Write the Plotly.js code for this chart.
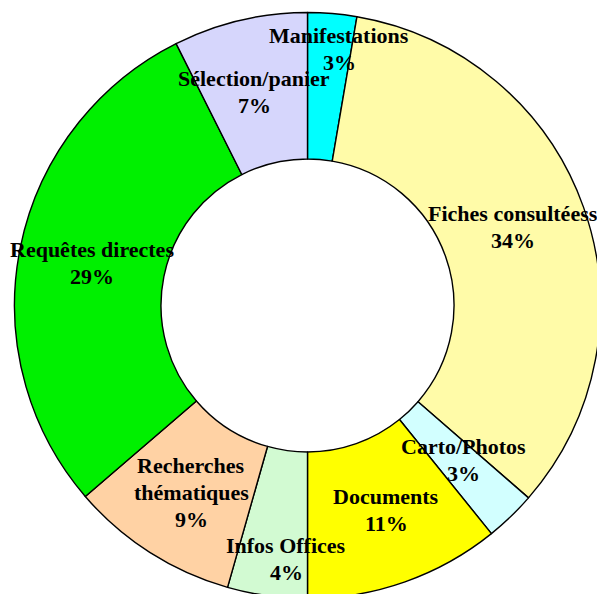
<!DOCTYPE html>
<html>
<head>
<meta charset="utf-8">
<script src="https://cdn.plot.ly/plotly-3.0.1.min.js"></script>
<style>
html,body{margin:0;padding:0;overflow:hidden;background:#fff;}
#chart{width:620px;height:620px;}
</style>
</head>
<body>
<div id="chart"></div>
<script>
// Data
var categories = ["Manifestations", "Fiches consultéess", "Carto/Photos", "Documents", "Infos Offices", "Recherches|thématiques", "Requêtes directes", "Sélection/panier"];
var values = [2.7, 33.7, 2.8, 10.8, 4.4, 9.3, 28.9, 7.4];
var colors = ["#00FFFF", "#FFFBA8", "#D2FFFF", "#FFFF00", "#D2FAD2", "#FFD2A4", "#00F000", "#D6D6FC"];

// Label placement (pixel centres of each label block) - layout only
var labelPos = [[339, 49], [513, 227], [463, 460], [386, 510], [286, 559], [191, 492], [92, 263], [254, 92]];

var W = 620, H = 620;
var cx = 307.5, cy = 305.5, R = 293;
var lineGap = 27;

var total = values.reduce(function(a, b){ return a + b; }, 0);
var annotations = [];
categories.forEach(function(cat, i){
  var lines = cat.split("|");
  lines.push(Math.round(values[i] / total * 100) + "%");
  var n = lines.length;
  lines.forEach(function(t, j){
    var py = labelPos[i][1] + (j - (n - 1) / 2) * lineGap;
    annotations.push({
      text: "<b>" + t + "</b>", showarrow: false, xref: "paper", yref: "paper",
      x: labelPos[i][0] / W, y: 1 - py / H, xanchor: "center", yanchor: "middle",
      font: {family: "Liberation Serif", size: 22, color: "#000"}
    });
  });
});

var trace = {
  type: "pie",
  labels: categories.map(function(c){ return c.replace("|", " "); }),
  values: values,
  sort: false,
  direction: "clockwise",
  rotation: 0,
  hole: 0.5,
  textinfo: "none",
  marker: {colors: colors, line: {color: "#000", width: 1.4}},
  domain: {x: [(cx - R) / W, (cx + R) / W], y: [1 - (cy + R) / H, 1 - (cy - R) / H]},
  showlegend: false
};

Plotly.newPlot("chart", [trace], {
  width: W, height: H,
  margin: {l: 0, r: 0, t: 0, b: 0},
  paper_bgcolor: "#fff",
  showlegend: false,
  annotations: annotations
}, {staticPlot: true});
</script>
</body>
</html>
